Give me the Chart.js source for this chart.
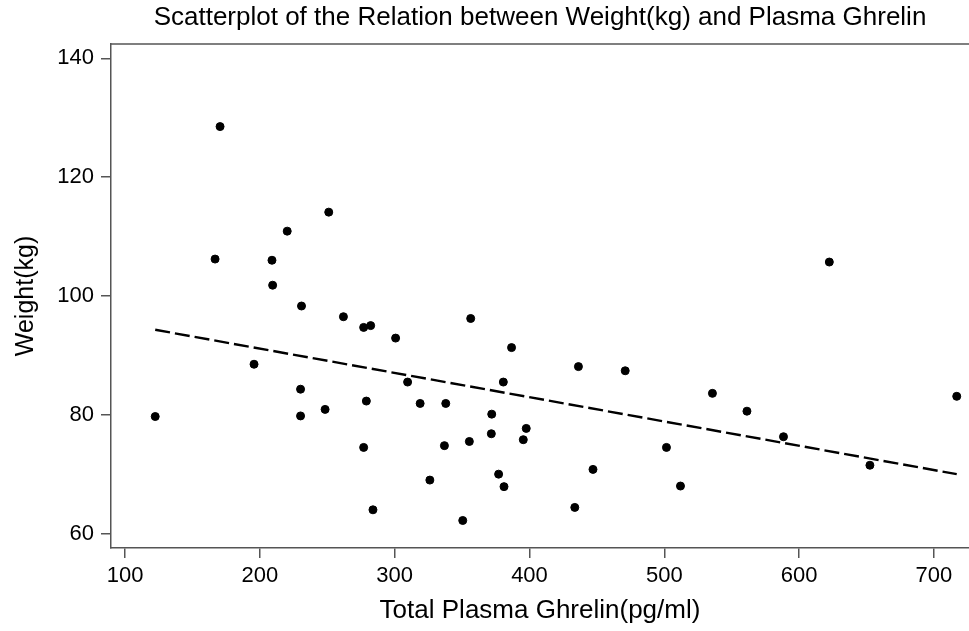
<!DOCTYPE html>
<html lang="en">

<head>
    <script src="https://cdn.jsdelivr.net/npm/chart.js@4"></script>
    <style>
        body { margin: 0; background: #fff; }
        #wrap { width: 969px; height: 631px; }
    </style>
</head>

<body>
    <div id="wrap"><canvas id="scatter"></canvas></div>

    <script>
        // Total plasma ghrelin (pg/ml)
        const ghrelin = [170.5, 251.1, 220.3, 166.8, 209.0, 209.5, 230.9,
            262.0, 277.0, 282.2, 300.7, 195.7, 230.2, 122.4, 230.2, 248.4, 279.0, 277.0, 283.9,
            356.4, 386.7, 436.3, 471.0, 309.6, 380.6, 318.9, 337.9, 372.0, 371.7, 397.6, 395.4,
            336.9, 355.4, 501.6, 447.1, 377.1, 381.1, 326.1, 433.6, 350.5,
            512.0, 622.4, 535.7, 561.3, 588.4, 652.5, 716.9];
        // Weight (kg)
        const weight = [128.5, 114.1, 110.9, 106.2, 106.0, 101.8, 98.3,
            96.5, 94.7, 95.0, 92.9, 88.5, 84.3, 79.7, 79.8, 80.9, 82.3, 74.5, 64.0,
            96.2, 91.3, 88.1, 87.4, 85.5, 85.5, 81.9, 81.9, 80.1, 76.8, 77.7, 75.8,
            74.8, 75.5, 74.5, 70.8, 70.0, 67.9, 69.0, 64.4, 62.2,
            68.0, 105.7, 83.6, 80.6, 76.3, 71.5, 83.1];
        // fitted line, end points
        const fitX = [122.4, 716.9];
        const fitY = [94.3, 70.0];

        const xTicks = [100, 200, 300, 400, 500, 600, 700];
        const yTicks = [60, 80, 100, 120, 140];

        const font = "'Liberation Sans', Arial, sans-serif";
        const axisColor = '#555';

        // top frame line
        const topLine = {
            id: 'topLine',
            afterDraw(chart) {
                const a = chart.chartArea;
                const ctx = chart.ctx;
                ctx.save();
                ctx.strokeStyle = axisColor;
                ctx.lineWidth = 1.5;
                ctx.beginPath();
                ctx.moveTo(a.left, a.top);
                ctx.lineTo(a.right, a.top);
                ctx.stroke();
                ctx.restore();
            }
        };

        const ctx = document.getElementById('scatter').getContext('2d');
        new Chart(ctx, {
            type: 'scatter',
            data: {
                datasets: [{
                    data: ghrelin.map((x, i) => ({ x: x, y: weight[i] })),
                    backgroundColor: '#000',
                    borderColor: '#000',
                    pointRadius: 4,
                    pointHoverRadius: 4
                }, {
                    type: 'line',
                    data: fitX.map((x, i) => ({ x: x, y: fitY[i] })),
                    borderColor: '#000',
                    borderWidth: 2.4,
                    borderDash: [15, 5],
                    pointRadius: 0,
                    fill: false
                }]
            },
            options: {
                responsive: true,
                maintainAspectRatio: false,
                animation: false,
                layout: { padding: 0, autoPadding: false },
                plugins: {
                    legend: { display: false },
                    tooltip: { enabled: false },
                    title: {
                        display: true,
                        fullSize: false,
                        text: 'Scatterplot of the Relation between Weight(kg) and Plasma Ghrelin',
                        color: '#000',
                        font: { family: font, size: 26, weight: 'normal' },
                        padding: { top: 2.4, bottom: 10.4 }
                    }
                },
                scales: {
                    x: {
                        type: 'linear',
                        min: 89.6,
                        max: 726,
                        afterFit: s => { s.height = 83; s.paddingLeft = 0; s.paddingRight = 0; },
                        afterBuildTicks: s => { s.ticks = xTicks.map(v => ({ value: v })); },
                        ticks: { color: '#000', font: { family: font, size: 22 }, padding: 5 },
                        grid: { drawOnChartArea: false, drawTicks: true, tickLength: 10, color: axisColor, lineWidth: 1.5 },
                        border: { color: axisColor, width: 1.5 },
                        title: {
                            display: true,
                            text: 'Total Plasma Ghrelin(pg/ml)',
                            color: '#000',
                            font: { family: font, size: 26 },
                            padding: { top: 0, bottom: 5 }
                        }
                    },
                    y: {
                        min: 57.57,
                        max: 142.4,
                        afterFit: s => { s.width = 111; s.paddingTop = 0; s.paddingBottom = 0; },
                        afterBuildTicks: s => { s.ticks = yTicks.map(v => ({ value: v })); },
                        ticks: { color: '#000', font: { family: font, size: 22 }, padding: 7 },
                        grid: { drawOnChartArea: false, drawTicks: true, tickLength: 10, color: axisColor, lineWidth: 1.5 },
                        border: { color: axisColor, width: 1.5 },
                        title: {
                            display: true,
                            text: 'Weight(kg)',
                            color: '#000',
                            font: { family: font, size: 25 },
                            padding: { top: 11, bottom: 0 }
                        }
                    }
                }
            },
            plugins: [topLine]
        });
    </script>
</body>

</html>
